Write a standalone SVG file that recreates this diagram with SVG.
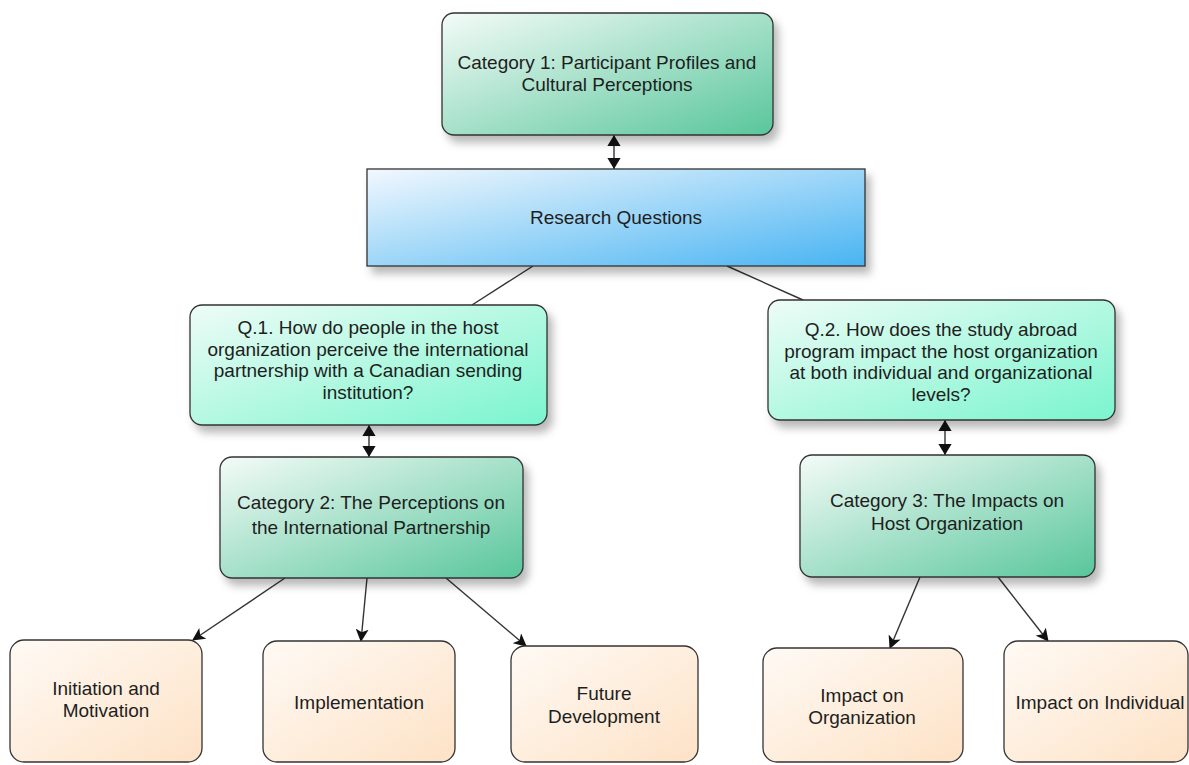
<svg xmlns="http://www.w3.org/2000/svg" width="1189" height="765" viewBox="0 0 1189 765">
<defs>
<style>
.box{stroke:#333;stroke-width:1.3}
.t{font-family:"Liberation Sans",Arial,sans-serif;font-size:19px;fill:#1e1e1e;text-anchor:middle}
.c{stroke:#333;stroke-width:1.4;fill:none}
</style>
<linearGradient id="gCat" x1="0" y1="0" x2="1" y2="1">
<stop offset="0" stop-color="#f4fbf8"/><stop offset="1" stop-color="#58c69b"/>
</linearGradient>
<linearGradient id="gQ" x1="0" y1="0" x2="1" y2="1">
<stop offset="0" stop-color="#eefcf7"/><stop offset="1" stop-color="#7af5cd"/>
</linearGradient>
<linearGradient id="gRQ" x1="0" y1="0" x2="1" y2="1">
<stop offset="0" stop-color="#f2f8fe"/><stop offset="1" stop-color="#48b4f2"/>
</linearGradient>
<linearGradient id="gLeaf" x1="0" y1="0" x2="1" y2="1">
<stop offset="0" stop-color="#fffaf5"/><stop offset="1" stop-color="#fde2c6"/>
</linearGradient>
<filter id="sh" x="-10%" y="-10%" width="130%" height="140%">
<feDropShadow dx="5" dy="7" stdDeviation="4" flood-color="#000" flood-opacity="0.28"/>
</filter>
<marker id="ah" viewBox="0 0 12 12" refX="11" refY="6" markerWidth="13" markerHeight="13" markerUnits="userSpaceOnUse" orient="auto-start-reverse">
<path d="M0,0 L12,6 L0,12 L3,6 z" fill="#111"/>
</marker>
<marker id="dh" viewBox="0 0 10 12" refX="10" refY="6" markerWidth="11" markerHeight="14" markerUnits="userSpaceOnUse" orient="auto-start-reverse">
<path d="M0,0 L10,6 L0,12 z" fill="#111"/>
</marker>
</defs>
<rect width="1189" height="765" fill="#fff"/>

<g id="connectors">
<line class="c" x1="614" y1="135" x2="614" y2="169" marker-start="url(#dh)" marker-end="url(#dh)"/>
<line class="c" x1="533" y1="266" x2="472" y2="305"/>
<line class="c" x1="727" y1="266" x2="803" y2="300"/>
<line class="c" x1="369" y1="425" x2="369" y2="457" marker-start="url(#dh)" marker-end="url(#dh)"/>
<line class="c" x1="945" y1="420" x2="945" y2="455" marker-start="url(#dh)" marker-end="url(#dh)"/>
<line class="c" x1="285" y1="578" x2="193" y2="640" marker-end="url(#ah)"/>
<line class="c" x1="367" y1="578" x2="361" y2="641" marker-end="url(#ah)"/>
<line class="c" x1="446" y1="578" x2="526" y2="646" marker-end="url(#ah)"/>
<line class="c" x1="920" y1="577" x2="890" y2="648" marker-end="url(#ah)"/>
<line class="c" x1="998" y1="577" x2="1048" y2="641" marker-end="url(#ah)"/>
</g>

<g id="cat1">
<rect class="box" x="442" y="13" width="331" height="122" rx="12" fill="url(#gCat)" filter="url(#sh)"/>
<text class="t" x="607" y="69">Category 1: Participant Profiles and</text>
<text class="t" x="607" y="91">Cultural Perceptions</text>
</g>

<g id="rq">
<rect class="box" x="367" y="169" width="498" height="97" fill="url(#gRQ)" filter="url(#sh)"/>
<text class="t" x="616" y="224">Research Questions</text>
</g>

<g id="q1">
<rect class="box" x="190" y="305" width="357" height="120" rx="12" fill="url(#gQ)" filter="url(#sh)"/>
<text class="t" x="368" y="334">Q.1. How do people in the host</text>
<text class="t" x="368" y="355.5">organization perceive the international</text>
<text class="t" x="368" y="377">partnership with a Canadian sending</text>
<text class="t" x="368" y="398.5">institution?</text>
</g>

<g id="q2">
<rect class="box" x="768" y="300" width="347" height="120" rx="12" fill="url(#gQ)" filter="url(#sh)"/>
<text class="t" x="941" y="336">Q.2. How does the study abroad</text>
<text class="t" x="941" y="357.5">program impact the host organization</text>
<text class="t" x="941" y="379">at both individual and organizational</text>
<text class="t" x="941" y="400.5">levels?</text>
</g>

<g id="cat2">
<rect class="box" x="220" y="457" width="303" height="121" rx="12" fill="url(#gCat)" filter="url(#sh)"/>
<text class="t" x="371" y="509">Category 2: The Perceptions on</text>
<text class="t" x="371" y="534">the International Partnership</text>
</g>

<g id="cat3">
<rect class="box" x="800" y="455" width="295" height="122" rx="12" fill="url(#gCat)" filter="url(#sh)"/>
<text class="t" x="947" y="507">Category 3: The Impacts on</text>
<text class="t" x="947" y="530">Host Organization</text>
</g>

<g id="leaf1">
<rect class="box" x="10" y="640" width="192" height="122" rx="14" fill="url(#gLeaf)"/>
<text class="t" x="106" y="695">Initiation and</text>
<text class="t" x="106" y="717">Motivation</text>
</g>

<g id="leaf2">
<rect class="box" x="263" y="641" width="192" height="121" rx="14" fill="url(#gLeaf)"/>
<text class="t" x="359" y="709">Implementation</text>
</g>

<g id="leaf3">
<rect class="box" x="511" y="646" width="187" height="116" rx="14" fill="url(#gLeaf)"/>
<text class="t" x="604" y="700">Future</text>
<text class="t" x="604" y="723">Development</text>
</g>

<g id="leaf4">
<rect class="box" x="763" y="648" width="200" height="114" rx="14" fill="url(#gLeaf)"/>
<text class="t" x="862" y="702">Impact on</text>
<text class="t" x="862" y="724">Organization</text>
</g>

<g id="leaf5">
<rect class="box" x="1004" y="641" width="184" height="121" rx="14" fill="url(#gLeaf)"/>
<text class="t" x="1100" y="709">Impact on Individual</text>
</g>
</svg>
